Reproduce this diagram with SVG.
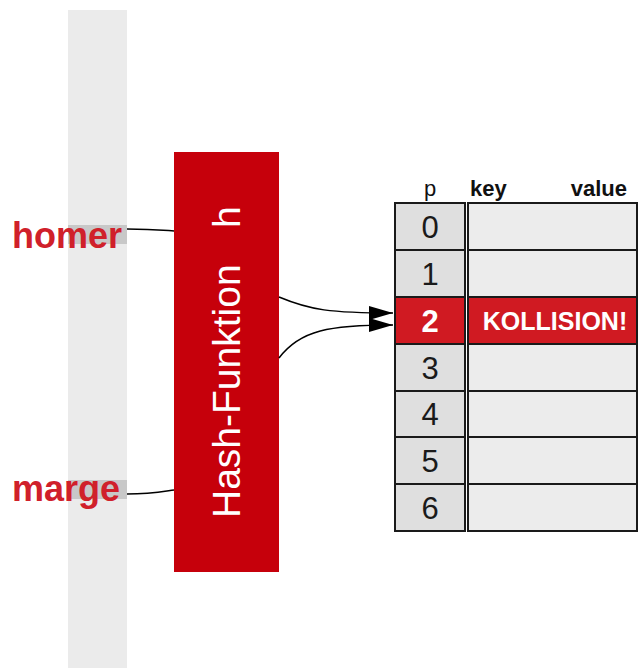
<svg xmlns="http://www.w3.org/2000/svg" width="641" height="668" viewBox="0 0 641 668">
<style>
  .lbl{font-family:"Liberation Sans",Arial,sans-serif;font-weight:bold;font-size:36px;fill:#d0202a}
  .hi{fill:#c8c8c8}
  .cellp{fill:#dfdfdf;stroke:#1a1a1a;stroke-width:2}
  .cellk{fill:#ececec;stroke:#1a1a1a;stroke-width:2}
  .cellr{fill:#d01a22;stroke:#1a1a1a;stroke-width:2}
  .num{font-family:"Liberation Sans",Arial,sans-serif;font-size:31px;fill:#1a1a1a;text-anchor:middle}
  .hdr{font-family:"Liberation Sans",Arial,sans-serif;font-size:22px;fill:#111}
  .conn{fill:none;stroke:#000;stroke-width:1.5}
</style>
<defs>
  <marker id="ah" markerUnits="userSpaceOnUse" markerWidth="25" markerHeight="16" refX="24" refY="7" orient="auto">
    <path d="M0,0 L24,7 L0,14 z" fill="#000"/>
  </marker>
</defs>
<rect x="68" y="10" width="59" height="658" fill="#ebebeb"/>
<g id="homer">
  <rect class="hi" x="68" y="225" width="59" height="19"/>
  <text class="lbl" x="12" y="248">homer</text>
</g>
<g id="marge">
  <rect class="hi" x="68" y="480" width="59" height="19"/>
  <text class="lbl" x="12" y="501">marge</text>
</g>
<g id="hash">
  <rect x="174" y="152" width="105" height="420" fill="#c6000b"/>
  <text transform="translate(240,518) rotate(-90)" font-family="Liberation Sans,Arial,sans-serif" font-size="39" fill="#fff">Hash-Funktion</text>
  <text transform="translate(240,228) rotate(-90)" font-family="Liberation Sans,Arial,sans-serif" font-size="39" fill="#fff">h</text>
</g>
<g id="table">
  <text class="hdr" x="430" y="196" text-anchor="middle">p</text>
  <text class="hdr" x="470" y="196" font-weight="bold">key</text>
  <text class="hdr" x="627" y="196" font-weight="bold" text-anchor="end">value</text>
  <g id="row0"><rect class="cellp" x="395" y="203" width="70" height="47"/><rect class="cellk" x="468" y="203" width="169" height="47"/><text class="num" x="430" y="238">0</text></g>
  <g id="row1"><rect class="cellp" x="395" y="250" width="70" height="47"/><rect class="cellk" x="468" y="250" width="169" height="47"/><text class="num" x="430" y="285">1</text></g>
  <g id="row2"><rect class="cellr" x="395" y="297" width="70" height="47"/><rect class="cellr" x="468" y="297" width="169" height="47"/><text class="num" x="430" y="332" font-weight="bold" style="fill:#fff">2</text><text x="555" y="330" text-anchor="middle" font-family="Liberation Sans,Arial,sans-serif" font-weight="bold" font-size="25" fill="#fff">KOLLISION!</text></g>
  <g id="row3"><rect class="cellp" x="395" y="344" width="70" height="47"/><rect class="cellk" x="468" y="344" width="169" height="47"/><text class="num" x="430" y="379">3</text></g>
  <g id="row4"><rect class="cellp" x="395" y="391" width="70" height="46"/><rect class="cellk" x="468" y="391" width="169" height="46"/><text class="num" x="430" y="425">4</text></g>
  <g id="row5"><rect class="cellp" x="395" y="437" width="70" height="47"/><rect class="cellk" x="468" y="437" width="169" height="47"/><text class="num" x="430" y="472">5</text></g>
  <g id="row6"><rect class="cellp" x="395" y="484" width="70" height="47"/><rect class="cellk" x="468" y="484" width="169" height="47"/><text class="num" x="430" y="519">6</text></g>
</g>
<g id="connectors">
  <path class="conn" d="M127,229 C150,229 160,230 174,231"/>
  <path class="conn" d="M127,494 C150,494 160,492 174,490"/>
  <path class="conn" d="M279,297 C310,310 330,313 393,313" marker-end="url(#ah)"/>
  <path class="conn" d="M279,358 C300,330 330,325 393,325" marker-end="url(#ah)"/>
</g>
</svg>
